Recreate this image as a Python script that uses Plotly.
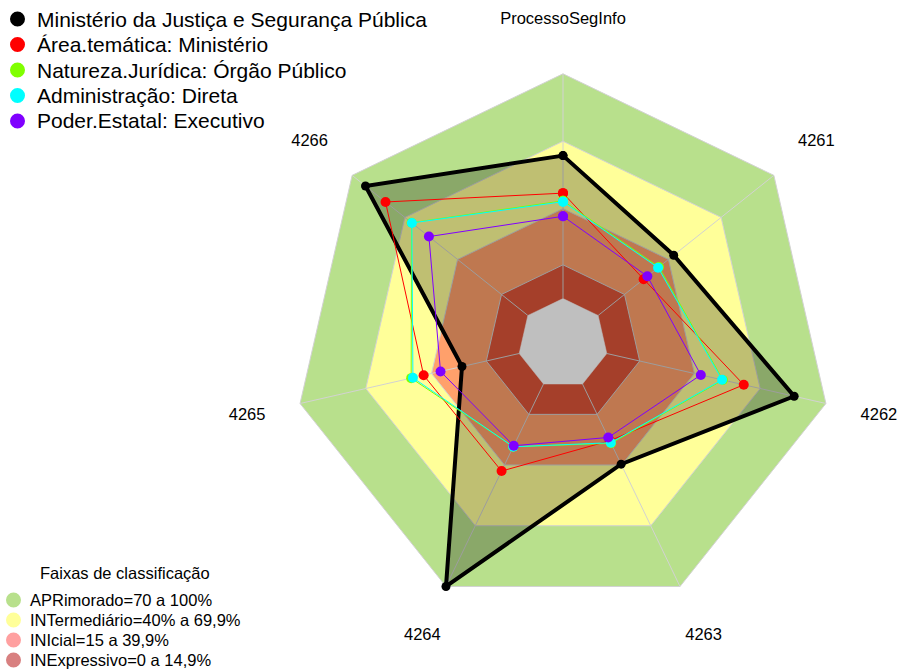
import plotly.graph_objects as go

# Axes of the radar (clockwise from the top)
categories = ["ProcessoSegInfo", "4261", "4262", "4263", "4264", "4265", "4266"]

# Scores (0-100) per series
ministerio = [63.6, 43.0, 85.5, 39.6, 100.0, 26.1, 92.4]
area_tematica = [46.9, 25.9, 62.5, 28.0, 43.0, 43.6, 81.0]
natureza_juridica = [43.5, 34.6, 53.0, 29.3, 31.0, 49.3, 66.2]
administracao = [43.1, 34.1, 52.6, 29.0, 31.0, 48.5, 66.0]
poder_estatal = [36.6, 28.0, 42.9, 26.4, 30.5, 35.9, 56.3]

series_names = [
    "Ministério da Justiça e Segurança Pública",
    "Área.temática: Ministério",
    "Natureza.Jurídica: Órgão Público",
    "Administração: Direta",
    "Poder.Estatal: Executivo",
]
series_values = [ministerio, area_tematica, natureza_juridica, administracao, poder_estatal]
series_colors = ["#000000", "#FF0000", "#80FF00", "#00FFFF", "#8000FF"]

# Classification bands (upper limits) and their fills
band_limits = [100, 70, 40, 15]
band_fill = ["#B8E08C", "#FFFF99", "#FFA06B", "#DC5439"]
band_labels = [
    "APRimorado=70 a 100%",
    "INTermediário=40% a 69,9%",
    "INIcial=15 a 39,9%",
    "INExpressivo=0 a 14,9%",
]
band_legend_colors = ["#B8E08C", "#FFFF99", "#FFA0A0", "#D88080"]
band_title = "Faixas de classificação"

W, H = 897, 671
FONT = "Liberation Sans, Arial, sans-serif"
GRID = "#D2D2D2"

closed = categories + categories[:1]


def close(vals):
    return list(vals) + [vals[0]]


fig = go.Figure()

# Background bands, outermost first, then the white centre
for lim, col in zip(band_limits, band_fill):
    fig.add_trace(go.Scatterpolar(
        r=[lim] * len(closed), theta=closed, mode="lines",
        fill="toself", fillcolor=col, line=dict(color=GRID, width=1),
        hoverinfo="skip", showlegend=False))
fig.add_trace(go.Scatterpolar(
    r=[0] * len(closed), theta=closed, mode="lines",
    fill="toself", fillcolor="#FFFFFF", line=dict(color="#FFFFFF", width=0.5),
    hoverinfo="skip", showlegend=False))

# Axis spokes
for c in categories:
    fig.add_trace(go.Scatterpolar(
        r=[0, 100], theta=[c, c], mode="lines",
        line=dict(color=GRID, width=1), hoverinfo="skip", showlegend=False))

# Series polygons
for i, (name, vals, col) in enumerate(zip(series_names, series_values, series_colors)):
    if i == 0:
        fig.add_trace(go.Scatterpolar(
            r=close(vals), theta=closed, mode="lines+markers", name=name,
            fill="toself", fillcolor="rgba(0,0,0,0.25)",
            line=dict(color=col, width=4), marker=dict(color=col, size=9),
            showlegend=False))
    else:
        fig.add_trace(go.Scatterpolar(
            r=close(vals), theta=closed, mode="lines+markers", name=name,
            line=dict(color=col, width=1), marker=dict(color=col, size=10),
            showlegend=False))

# Axis labels
fig.add_trace(go.Scatterpolar(
    r=[124.2] * len(categories), theta=categories, mode="text", text=categories,
    textfont=dict(family=FONT, size=16.5, color="#000000"),
    cliponaxis=False, hoverinfo="skip", showlegend=False))

# Polar frame: centre (563, 343.5) px, radius 327 px
cx, cy, R = 563, 343.5, 327
fig.update_layout(
    width=W, height=H,
    margin=dict(l=0, r=0, t=0, b=0),
    paper_bgcolor="white",
    showlegend=False,
    polar=dict(
        domain=dict(x=[(cx - R) / W, (cx + R) / W],
                    y=[(H - cy - R) / H, (H - cy + R) / H]),
        bgcolor="rgba(0,0,0,0)",
        radialaxis=dict(range=[-20, 125.5], visible=False),
        angularaxis=dict(visible=False, direction="clockwise", rotation=90,
                         type="category", categoryarray=categories),
    ),
)

shapes, annotations = [], []


def dot(x, y, d, color):
    shapes.append(dict(type="circle", xref="paper", yref="paper",
                       x0=(x - d / 2) / W, x1=(x + d / 2) / W,
                       y0=1 - (y + d / 2) / H, y1=1 - (y - d / 2) / H,
                       fillcolor=color, line=dict(width=0)))


def label(x, y, text, size, anchor="left"):
    annotations.append(dict(x=x / W, y=1 - y / H, xref="paper", yref="paper",
                            text=text, showarrow=False, xanchor=anchor,
                            yanchor="middle",
                            font=dict(family=FONT, size=size, color="#000000")))


# Series legend (top left)
for k, (name, col) in enumerate(zip(series_names, series_colors)):
    y = 19 + 25.5 * k
    dot(17.5, y, 15, col)
    label(35, y, name, 21)

# Band legend (bottom left)
label(125, 573, band_title, 16.5, anchor="center")
for k, (txt, col) in enumerate(zip(band_labels, band_legend_colors)):
    y = 600 + 20 * k
    dot(13.5, y, 15, col)
    label(27.5, y, txt, 16.5)

fig.update_layout(shapes=shapes, annotations=annotations)
fig.write_html("out.html")
